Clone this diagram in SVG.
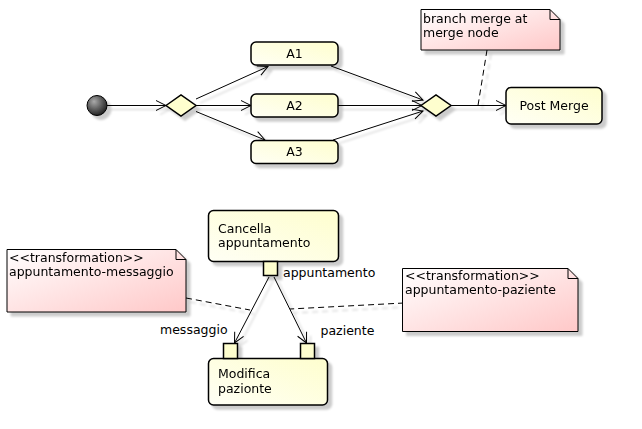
<svg xmlns="http://www.w3.org/2000/svg" width="642" height="429" viewBox="0 0 642 429">
<defs>
<linearGradient id="actG" x1="0" y1="1" x2="1" y2="0">
<stop offset="0" stop-color="#FFFFF5"/>
<stop offset="1" stop-color="#FEFECE"/>
</linearGradient>
<linearGradient id="noteG" x1="0" y1="0" x2="1" y2="1">
<stop offset="0" stop-color="#FFFFFF"/>
<stop offset="1" stop-color="#FFC8C8"/>
</linearGradient>
<radialGradient id="startG" cx="0.4" cy="0.35" r="0.7" fx="0.35" fy="0.3">
<stop offset="0" stop-color="#AAAAAA"/>
<stop offset="1" stop-color="#1A1A1A"/>
</radialGradient>
<filter id="sh" filterUnits="userSpaceOnUse" x="0" y="0" width="642" height="429">
<feGaussianBlur in="SourceAlpha" stdDeviation="1.2"/>
<feOffset dx="4" dy="4" result="b"/>
<feFlood flood-color="#000" flood-opacity="0.2"/>
<feComposite in2="b" operator="in" result="s"/>
<feMerge><feMergeNode in="s"/><feMergeNode in="SourceGraphic"/></feMerge>
</filter>
<marker id="arr" markerUnits="userSpaceOnUse" markerWidth="14" markerHeight="12" refX="11" refY="5" orient="auto" overflow="visible">
<path d="M1,0 L11,5 L1,10" fill="none" stroke="#000" stroke-width="1"/>
</marker>
</defs>
<style>
text{font-family:"DejaVu Sans","Liberation Sans",sans-serif;font-size:12.5px;fill:#000}
.act{fill:url(#actG);stroke:#000;stroke-width:1.5}
.dia{fill:#FEFECE;stroke:#000;stroke-width:1.5}
.port{fill:#FEFECE;stroke:#000;stroke-width:1.5}
.note{fill:url(#noteG);stroke:#000;stroke-width:1}
.fold{fill:none;stroke:#000;stroke-width:1}
.edge{fill:none;stroke:#000;stroke-width:1;marker-end:url(#arr)}
.dash{fill:none;stroke:#000;stroke-width:1;stroke-dasharray:6 4}
</style>
<g id="connectors" filter="url(#sh)">
<line class="edge" x1="107" y1="105.5" x2="166" y2="105.5"/>
<line class="edge" x1="196" y1="99" x2="268" y2="66.5"/>
<line class="edge" x1="196" y1="105.5" x2="251" y2="105.5"/>
<line class="edge" x1="196" y1="111.5" x2="265" y2="140"/>
<line class="edge" x1="331" y1="66" x2="423" y2="100"/>
<line class="edge" x1="338" y1="105.5" x2="422" y2="105.5"/>
<line class="edge" x1="333" y1="140" x2="423" y2="111"/>
<line class="edge" x1="451" y1="105.5" x2="506" y2="105.5"/>
<line class="dash" x1="487" y1="50" x2="478" y2="105.5"/>
<line class="edge" x1="269" y1="277" x2="234.5" y2="343"/>
<line class="edge" x1="274" y1="277" x2="306.5" y2="343"/>
<line class="dash" x1="186" y1="298" x2="250" y2="310"/>
<line class="dash" x1="404" y1="303" x2="290" y2="309"/>
</g>
<g id="start" filter="url(#sh)">
<circle cx="97" cy="105.5" r="10" fill="url(#startG)" stroke="#000" stroke-width="1"/>
</g>
<g id="branch" filter="url(#sh)">
<polygon class="dia" points="166,105.5 181,95 196,105.5 181,116"/>
</g>
<g id="A1" filter="url(#sh)">
<rect class="act" x="251" y="42" width="87" height="23" rx="5"/>
<text x="294.5" y="57.5" text-anchor="middle">A1</text>
</g>
<g id="A2" filter="url(#sh)">
<rect class="act" x="251" y="94" width="87" height="23" rx="5"/>
<text x="294.5" y="109.5" text-anchor="middle">A2</text>
</g>
<g id="A3" filter="url(#sh)">
<rect class="act" x="251" y="140.5" width="87" height="23" rx="5"/>
<text x="294.5" y="156" text-anchor="middle">A3</text>
</g>
<g id="merge" filter="url(#sh)">
<polygon class="dia" points="421,105.5 436,95 451,105.5 436,116"/>
</g>
<g id="postmerge" filter="url(#sh)">
<rect class="act" x="506" y="87.5" width="96" height="36.5" rx="5"/>
<text x="554" y="110" text-anchor="middle">Post Merge</text>
</g>
<g id="note1" filter="url(#sh)">
<path class="note" d="M421,9.5 L550,9.5 L560,19.5 L560,50 L421,50 Z"/>
<path class="fold" d="M550,9.5 L550,19.5 L560,19.5"/>
<text x="423" y="22.5">branch merge at</text>
<text x="423" y="36.5">merge node</text>
</g>
<g id="cancella" filter="url(#sh)">
<rect class="act" x="208.5" y="210.5" width="130" height="51" rx="5"/>
<text x="218" y="233">Cancella</text>
<text x="218" y="247">appuntamento</text>
<rect class="port" x="263.5" y="261.5" width="14" height="14"/>
</g>
<text x="283" y="277">appuntamento</text>
<g id="modifica" filter="url(#sh)">
<rect class="act" x="208.5" y="358.5" width="119" height="46.5" rx="5"/>
<text x="218" y="378">Modifica</text>
<text x="218" y="392.5">pazionte</text>
<rect class="port" x="223.5" y="343.5" width="14" height="15"/>
<rect class="port" x="300.5" y="343.5" width="14" height="15"/>
</g>
<text x="160" y="333.5">messaggio</text>
<text x="320.5" y="335">paziente</text>
<g id="note2" filter="url(#sh)">
<path class="note" d="M7,249.5 L176,249.5 L186,259.5 L186,312 L7,312 Z"/>
<path class="fold" d="M176,249.5 L176,259.5 L186,259.5"/>
<text x="9" y="261.5">&lt;&lt;transformation&gt;&gt;</text>
<text x="9" y="275.5">appuntamento-messaggio</text>
</g>
<g id="note3" filter="url(#sh)">
<path class="note" d="M402.5,268.5 L568,268.5 L578,278.5 L578,331.5 L402.5,331.5 Z"/>
<path class="fold" d="M568,268.5 L568,278.5 L578,278.5"/>
<text x="405" y="279.5">&lt;&lt;transformation&gt;&gt;</text>
<text x="405" y="293.5">appuntamento-paziente</text>
</g>
</svg>
